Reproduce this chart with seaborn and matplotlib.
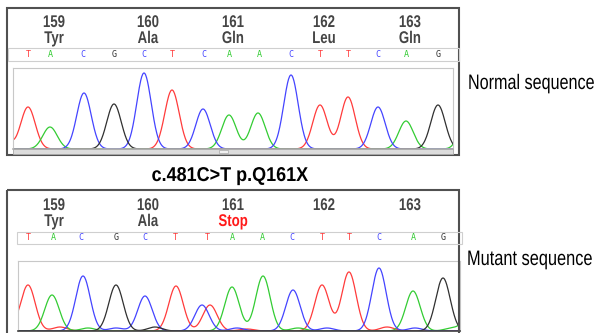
import matplotlib
matplotlib.use("Agg")
import matplotlib.pyplot as plt
import seaborn as sns
import numpy as np
import pandas as pd
from matplotlib.patches import Rectangle
from matplotlib.patheffects import AbstractPathEffect
from matplotlib.transforms import Affine2D

# ---- data -------------------------------------------------------------
codons = [159, 160, 161, 162, 163]
normal_aa = ["Tyr", "Ala", "Gln", "Leu", "Gln"]
mutant_aa = ["Tyr", "Ala", "Stop", "", ""]

# base calls (letter, scan position)
normal_calls = list("TACGCTCAACTTCAG")
normal_call_pos = [28, 50, 83, 114, 144, 172, 204, 229, 259, 291, 320, 348, 378, 406, 438]
mutant_calls = list("TACGCTTAACTTCAG")
mutant_call_pos = [28, 53, 81, 116, 145, 175, 207, 232, 262, 292, 322, 349, 379, 413, 443]

# trace peaks (base, scan position, signal height)
normal_peak_base = list("TTACGCTCAACTTCAGA")
normal_peak_pos = [0, 28, 50, 84, 114, 144, 172, 203, 229, 258, 291, 320, 348, 378, 406, 438, 468]
normal_peak_height = [22, 42, 22, 56, 45, 76, 59, 40, 34, 36, 74, 44, 52, 42, 28, 44, 42]

mutant_peak_base = list("TTACGCTCTAACTTCAG") + list("TACGCTACTCAA")
mutant_peak_pos = [2, 28, 52, 83, 116, 145, 176, 202, 210, 232, 263, 293, 322, 349, 379, 413, 443,
                   60, 88, 116, 155, 237, 247, 298, 327, 387, 415, 452, 472]
mutant_peak_height = [20, 46, 36, 55, 46, 35, 45, 26, 26, 44, 55, 41, 46, 59, 63, 40, 53,
                      4, 3, 3, 4, 3, 2, 3, 3, 4, 3, 3, 22]

base_colors = {"A": "#33cc33", "C": "#4444ff", "G": "#303030", "T": "#ff3b3b"}
SIGMA = 7.2

W, H = 598, 333
font = ["Liberation Sans", "DejaVu Sans"]


class Stretch(AbstractPathEffect):
    """Stretch glyphs vertically about the baseline (narrow-font look)."""

    def __init__(self, sy):
        super().__init__()
        self.sy = sy

    def draw_path(self, renderer, gc, tpath, affine, rgbFace=None):
        renderer.draw_path(gc, tpath, Affine2D().scale(1, self.sy) + affine, rgbFace)


def trace_frame(bases, pos, heights, x0, x1):
    scan = np.linspace(x0, x1, 900)
    parts = []
    for b in "TACG":
        sig = np.zeros_like(scan)
        for pb, pp, ph in zip(bases, pos, heights):
            if pb == b:
                sig += ph * np.exp(-0.5 * ((scan - pp) / SIGMA) ** 2)
        parts.append(pd.DataFrame({"scan": scan, "signal": sig, "base": b}))
    return pd.concat(parts, ignore_index=True)


def fig_rect(x0, y0, x1, y1):
    return [x0 / W, (H - y1) / H, (x1 - x0) / W, (y1 - y0) / H]


sns.set_style("white")
fig = plt.figure(figsize=(W / 100, H / 100), dpi=100)


def draw_trace(rect, df, x0, x1, ymax, bottom_color):
    ax = fig.add_axes(rect)
    sns.lineplot(data=df, x="scan", y="signal", hue="base", palette=base_colors,
                 estimator=None, sort=False, legend=False, linewidth=0.9, ax=ax)
    ax.set_xlim(x0, x1)
    ax.set_ylim(0, ymax)
    ax.set(xlabel="", ylabel="", xticks=[], yticks=[])
    for s in ax.spines.values():
        s.set_color("#c8c8c8")
        s.set_linewidth(0.8)
    ax.spines["bottom"].set_color(bottom_color)
    ax.spines["bottom"].set_linewidth(1.2)
    return ax


top_df = trace_frame(normal_peak_base, normal_peak_pos, normal_peak_height, 13, 453)
draw_trace(fig_rect(13, 68, 453, 149), top_df, 13, 453, 81, "#b0b0b0")

bot_df = trace_frame(mutant_peak_base, mutant_peak_pos, mutant_peak_height, 18, 460)
draw_trace(fig_rect(18, 261, 460, 331), bot_df, 18, 460, 70, "#404040")

# overlay in pixel coordinates for frames and labels
ov = fig.add_axes([0, 0, 1, 1])
ov.set_xlim(0, W)
ov.set_ylim(H, 0)
ov.axis("off")
ov.patch.set_alpha(0)

# top panel frames
ov.add_patch(Rectangle((7, 8), 452, 147, fill=False, ec="#505050", lw=1.5))
ov.add_patch(Rectangle((8, 48), 451, 13, fill=False, ec="#cfcfcf", lw=0.8))
ov.add_patch(Rectangle((13, 149), 440, 5, fc="#dcdcdc", ec="#a8a8a8", lw=0.6))
ov.add_patch(Rectangle((219, 150), 9, 3, fc="#f0f0f0", ec="#a8a8a8", lw=0.5))

# bottom panel frames
ov.add_patch(Rectangle((7, 190), 452, 160, fill=False, ec="#505050", lw=1.5))
ov.add_patch(Rectangle((17, 232), 445, 12, fill=False, ec="#cfcfcf", lw=0.8))


def narrow_text(x, y, s, em, sx, **kw):
    # em: nominal font size in pt, sx: horizontal compression
    return ov.text(x, y, s, fontsize=em * sx, va="baseline", family=font,
                   path_effects=[Stretch(1 / sx)], **kw)


codon_x = [normal_call_pos[3 * i + 1] + 4 for i in range(len(codons))]


def codon_labels(aa, y_num, y_aa):
    for cx, num, name in zip(codon_x, codons, aa):
        narrow_text(cx, y_num, str(num), 12.2, 0.78, ha="center",
                    fontweight="bold", color="#454545")
        if name:
            col = "#ff1a1a" if name == "Stop" else "#454545"
            narrow_text(cx, y_aa, name, 12.2, 0.78, ha="center",
                        fontweight="bold", color=col)


def base_letters(calls, calls_pos, y):
    for b, x in zip(calls, calls_pos):
        ov.text(x, y, b, ha="center", va="center", fontsize=6,
                color=base_colors[b], family="DejaVu Sans Mono")


codon_labels(normal_aa, 27, 43)
codon_labels(mutant_aa, 210, 226)
base_letters(normal_calls, normal_call_pos, 54.5)
base_letters(mutant_calls, mutant_call_pos, 238)

narrow_text(230, 181, "c.481C>T p.Q161X", 14.4, 0.9, ha="center",
            fontweight="bold", color="black")
narrow_text(468, 89, "Normal sequence", 15.1, 0.77, ha="left", color="black")
narrow_text(467, 265, "Mutant sequence", 15.1, 0.78, ha="left", color="black")

fig.savefig("out.png", dpi=100)
